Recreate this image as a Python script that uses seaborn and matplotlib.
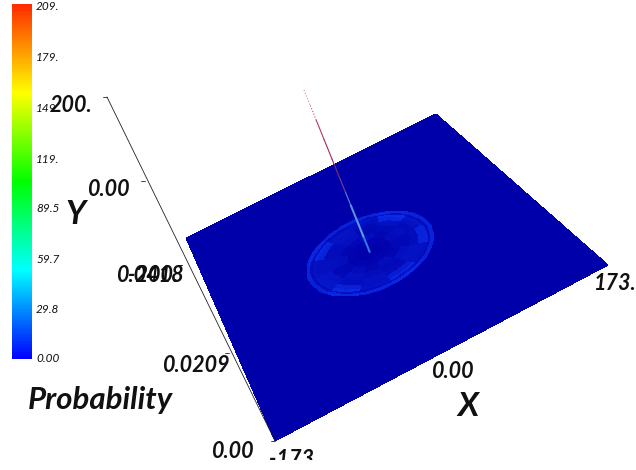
import numpy as np
import pandas as pd
import seaborn as sns
import matplotlib
matplotlib.use('Agg')
import matplotlib.pyplot as plt
from matplotlib.colors import LinearSegmentedColormap, Normalize
from matplotlib.patches import Rectangle

# colour bar
bar_ticks = [0.0, 29.8, 59.7, 89.5, 119, 149, 179, 209]
bar_labels = ['0.00', '29.8', '59.7', '89.5', '119.', '149.', '179.', '209.']
bar_colors = ['#0000ff', '#00ffff', '#00ff00', '#ffff00', '#ff2a00']

# axes
x_ticks = [-173, 0, 173]
x_labels = ['-173', '0.00', '173.']
y_ticks = [-200, 0, 200]
y_labels = ['-200.', '0.00', '200.']
z_ticks = [0.0, 0.0209, 0.0418]
z_labels = ['0.00', '0.0209', '0.0418']

# sheet, values
sheet_edges = [-173, 173]
sheet_value = [[0.0]]

# ellipse bands (fraction of semi axes) and sectors (degrees)
ring_centre = (-1.0, -3.5)
ring_semi_x = 70
ring_semi_y = 59
ring_radii = [0.0, 0.2, 0.35, 0.5, 0.65, 0.78, 0.87, 0.93, 0.97, 1.02]
ring_angles = [0, 30, 60, 90, 120, 150, 180, 210, 240, 270, 300, 330, 360]
ring_values = [
    [1, 1, 1, 1, 1, 1, 1, 1, 1, 1, 1, 1],
    [3, 2, 3, 2, 2, 3, 2, 3, 2, 3, 2, 2],
    [8, 5, 9, 6, 4, 9, 5, 8, 5, 9, 4, 6],
    [10, 7, 5, 11, 8, 10, 6, 12, 8, 7, 11, 6],
    [8, 12, 7, 13, 8, 11, 14, 9, 12, 8, 13, 9],
    [12, 26, 10, 14, 24, 11, 15, 23, 12, 20, 13, 24],
    [16, 30, 14, 12, 28, 13, 16, 29, 14, 26, 12, 25],
    [8, 11, 9, 7, 10, 8, 9, 11, 8, 10, 7, 9],
    [24, 27, 25, 23, 27, 25, 23, 27, 25, 27, 23, 25],
]

# spike above the middle of the ellipse
spike_z = [0.0, 0.004, 0.008, 0.012, 0.0155, 0.019, 0.024, 0.029, 0.034, 0.038, 0.0418]
spike_colors = ['#2f78e8', '#5c9ce8', '#5a90dc', '#5f86d8', '#7a3f9c', '#8a2a72', '#a02a5c',
                '#b03a5e', '#c25070', '#d88a9c', '#eec4cc']

sheet_cmap = LinearSegmentedColormap.from_list('sheet', ['#0000aa', '#0a2ae6', '#2a5cff'])
bar_cmap = LinearSegmentedColormap.from_list('bar', bar_colors)


def sheet_to_px(x, y):
    # perspective map of the z=0 sheet onto the picture
    src = [(-173, -173), (173, -173), (173, 173), (-173, 173)]
    dst = [(275, 441), (608, 265), (436, 114), (186, 238)]
    a, b = [], []
    for (sx, sy), (dx, dy) in zip(src, dst):
        a.append([sx, sy, 1, 0, 0, 0, -dx * sx, -dx * sy])
        a.append([0, 0, 0, sx, sy, 1, -dy * sx, -dy * sy])
        b += [dx, dy]
    h = np.linalg.solve(np.array(a, float), np.array(b, float))
    w = h[6] * x + h[7] * y + 1
    return (h[0] * x + h[1] * y + h[2]) / w, (h[3] * x + h[4] * y + h[5]) / w


sns.set_style('white')
plt.rcParams['font.family'] = ['Lato', 'DejaVu Sans']

fig = plt.figure(figsize=(6.36, 4.70), dpi=100)
ax = fig.add_axes([0, 0, 1, 1])
ax.set_xlim(0, 636)
ax.set_ylim(470, 0)
ax.axis('off')

# sheet
gx, gy = np.meshgrid(sheet_edges, sheet_edges)
px, py = sheet_to_px(np.array(gx, float), np.array(gy, float))
norm = Normalize(0, 60)
ax.pcolormesh(px, py, np.array(sheet_value), cmap=sheet_cmap, norm=norm, zorder=1)

# ellipse, each sector split so that the outline comes out round
split = 5
edges = np.radians(np.linspace(ring_angles[0], ring_angles[-1], (len(ring_angles) - 1) * split + 1))
rr, tt = np.meshgrid(ring_radii, edges, indexing='ij')
px, py = sheet_to_px(ring_centre[0] + ring_semi_x * rr * np.cos(tt),
                     ring_centre[1] + ring_semi_y * rr * np.sin(tt))
ax.pcolormesh(px, py, np.repeat(np.array(ring_values, float), split, axis=1), cmap=sheet_cmap,
              norm=norm, shading='flat', edgecolors='none', zorder=2)

# spike
base_x, base_y = sheet_to_px(*ring_centre)
spike_px = np.interp(spike_z, [0, 0.0418], [base_x, 304])
spike_py = np.interp(spike_z, [0, 0.0418], [base_y, 90])
for i in range(len(spike_z) - 1):
    seg = pd.DataFrame({'x': spike_px[i:i + 2], 'y': spike_py[i:i + 2]})
    sns.lineplot(data=seg, x='x', y='y', sort=False, color=spike_colors[i],
                 lw=1.5 if i < 3 else 0.8, ls=':' if i > 7 else '-', ax=ax, zorder=4, errorbar=None)

# z axis then y axis, they line up in this view
z_px = np.interp(z_ticks, [0, 0.0418], [275, 182])
z_py = np.interp(z_ticks, [0, 0.0418], [441, 265])
y_px = np.interp(y_ticks, [-200, 200], [182, 107])
y_py = np.interp(y_ticks, [-200, 200], [265, 97])
axis_line = pd.DataFrame({'x': [z_px[0], y_px[2]], 'y': [z_py[0], y_py[2]]})
sns.lineplot(data=axis_line, x='x', y='y', sort=False, color='#222222', lw=0.6, ax=ax, zorder=3,
             errorbar=None)
for tx, ty in list(zip(z_px, z_py)) + list(zip(y_px, y_py)):
    ax.plot([tx, tx - 4], [ty, ty], color='#222222', lw=0.6, zorder=3)

big = dict(fontsize=15.5, style='italic', fontweight='bold', color='#111111', zorder=6)
for label, xp, yp in zip(z_labels, [232, 196, 150], [452, 365, 275]):
    ax.text(xp, yp, label, ha='center', va='center', **big)
for label, xp, yp in zip(y_labels, [153, 108, 71], [275, 189, 105]):
    ax.text(xp, yp, label, ha='center', va='center', **big)
for label, xp, yp in zip(x_labels, [292, 452, 615], [459, 371, 283]):
    ax.text(xp, yp, label, ha='center', va='center', **big)

ax.text(100, 400, 'Probability', ha='center', va='center', fontsize=22.5, style='italic',
        fontweight='bold', color='#111111', zorder=6)
ax.text(468, 407, 'X', ha='center', va='center', fontsize=24, style='italic', fontweight='bold',
        color='#111111', zorder=6)
ax.text(76, 214, 'Y', ha='center', va='center', fontsize=24, style='italic', fontweight='bold',
        color='#111111', zorder=6)

# the original is cut off along this line
ax.add_patch(Rectangle((0, 460), 636, 10, fc='white', ec='none', zorder=7))

# colour bar
cax = fig.add_axes([12 / 636, 1 - 359 / 470, 20 / 636, 355 / 470])
levels = np.linspace(209, 0, 256).reshape(-1, 1)
sns.heatmap(levels, cmap=bar_cmap, vmin=0, vmax=209, cbar=False, ax=cax,
            xticklabels=False, yticklabels=False)
for label, value in zip(bar_labels, bar_ticks):
    yp = 359 - 353 * value / 209
    ax.text(36, yp + (0 if value in (0.0, 209) else 1), label, ha='left', va='center', fontsize=8.5,
            style='italic', color='#111111', zorder=5)

plt.savefig('out.png', dpi=100)
